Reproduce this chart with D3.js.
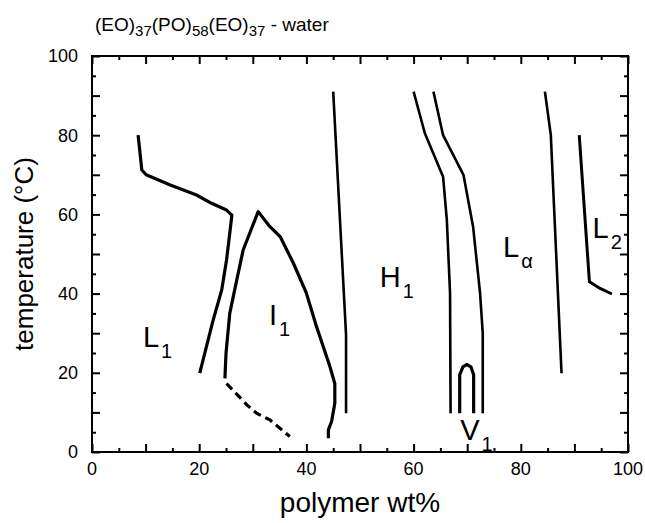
<!DOCTYPE html>
<html>
<head>
<meta charset="utf-8">
<script src="https://cdn.jsdelivr.net/npm/d3@7"></script>
<style>
  html, body { margin: 0; padding: 0; background: #fff; }
  svg { display: block; font-family: "Liberation Sans", Arial, Helvetica, sans-serif; }
</style>
</head>
<body>
<svg id="chart" width="645" height="523"></svg>
<script>
// ---- data (polymer wt%, temperature °C) ----
const l1Boundary = [[8.6,80],[9.3,71.2],[10.1,70],[14.6,67.4],[19.5,64.9],[22.3,62.8],[25.1,61.1],[26.1,59.8],[25.7,55.2],[25.1,48.5],[24.2,40.9],[22.6,33.3],[20.1,19.9]];
const i1Boundary = [[24.8,18.6],[25.0,24.9],[25.7,35],[27.0,43.4],[28.2,51],[31.0,60.7],[33.2,56.9],[35.1,54.4],[37.6,47.6],[40.0,40.1],[41.9,31.6],[44.4,21.5],[45.3,17.3],[45.3,12.3],[44.7,7.7],[44.1,5.6],[44.1,3.5]];
const i1Lower = [[25.1,17.3],[28.9,11.9],[30.7,9.8],[33.2,8.1],[36.9,3.9]];
const h1Left = [[45.0,91],[47.4,29.5],[47.4,9.8]];
const h1Right = [[60.0,91],[62.1,80.5],[65.5,69.5],[66.2,58.6],[66.8,40.1],[66.9,9.8]];
const v1Right = [[63.7,91],[65.5,80],[69.3,70],[71.1,56.9],[72.4,40.1],[72.9,30],[72.9,9.8]];
const v1Loop = [[68.6,9.8],[68.6,19.5],[69.2,21.5],[69.9,22.1],[70.7,21.5],[71.2,19.5],[71.2,9.8]];
const laRight = [[84.5,91],[85.6,80],[87.6,19.9]];
const l2Boundary = [[90.9,80],[92.8,43],[94.8,41.3],[97.0,39.9]];

const xMajorTicks = [0,10,20,30,40,50,60,70,80,90,100];
const xMinorTicks = [5,15,25,35,45,55,65,75,85,95];
const yMajorTicks = [0,10,20,30,40,50,60,70,80,90,100];
const yMinorTicks = [5,15,25,35,45,55,65,75,85,95];
const xTickLabels = [0,20,40,60,80,100];
const yTickLabels = [0,20,40,60,80,100];

const phaseLabels = [
  {main:"L", sub:"1", x:9.5, y:26.6},
  {main:"I", sub:"1", x:33.0, y:32.0},
  {main:"H", sub:"1", x:53.7, y:41.7},
  {main:"L", sub:"α", x:76.7, y:49.3},
  {main:"L", sub:"2", x:93.4, y:54.0},
  {main:"V", sub:"1", x:68.7, y:3.0}
];

// ---- layout ----
const svg = d3.select("#chart");
const L = 92, R = 628, T = 56, B = 452;
const x = d3.scaleLinear().domain([0,100]).range([L,R]);
const y = d3.scaleLinear().domain([0,100]).range([B,T]);

// axes (ticks inward on all sides)
function addAxis(gen, tr, vals, size) {
  const g = svg.append("g").attr("transform", tr)
    .call(gen.tickValues(vals).tickSize(-size).tickFormat(""));
  g.select(".domain").remove();
  g.selectAll("line").attr("stroke","#000").attr("stroke-width",2);
  return g;
}
addAxis(d3.axisBottom(x), `translate(0,${B})`, xMajorTicks, 8);
addAxis(d3.axisBottom(x), `translate(0,${B})`, xMinorTicks, 4);
addAxis(d3.axisTop(x), `translate(0,${T})`, xMajorTicks, 8);
addAxis(d3.axisTop(x), `translate(0,${T})`, xMinorTicks, 4);
addAxis(d3.axisLeft(y), `translate(${L},0)`, yMajorTicks, 8);
addAxis(d3.axisLeft(y), `translate(${L},0)`, yMinorTicks, 4);
addAxis(d3.axisRight(y), `translate(${R},0)`, yMajorTicks, 8);
addAxis(d3.axisRight(y), `translate(${R},0)`, yMinorTicks, 4);

svg.append("rect").attr("x",L).attr("y",T).attr("width",R-L).attr("height",B-T)
  .attr("fill","none").attr("stroke","#000").attr("stroke-width",2);

// tick labels
svg.append("g").selectAll("text").data(xTickLabels).join("text")
  .attr("x", d => x(d)).attr("y", 475).attr("text-anchor","middle")
  .attr("font-size", 18).text(d => d);
svg.append("g").selectAll("text").data(yTickLabels).join("text")
  .attr("x", 78).attr("y", d => y(d)).attr("dy","0.36em").attr("text-anchor","end")
  .attr("font-size", 18).text(d => d);

// axis titles
svg.append("text").attr("x", (L+R)/2).attr("y", 512).attr("text-anchor","middle")
  .attr("font-size", 28).text("polymer wt%");
svg.append("text").attr("transform", `translate(33,${(T+B)/2}) rotate(-90)`)
  .attr("text-anchor","middle").attr("font-size", 26).text("temperature (°C)");

// title
const title = svg.append("text").attr("x", 95).attr("y", 31).attr("font-size", 19);
const parts = [["(EO)",false],["37",true],["(PO)",false],["58",true],["(EO)",false],["37",true],[" - water",false]];
parts.forEach(([t,sub]) => {
  title.append("tspan").attr("font-size", sub ? 15 : 19)
    .attr("baseline-shift", sub ? "-30%" : null).text(t);
});

// boundaries
const line = d3.line().x(d => x(d[0])).y(d => y(d[1]));
const curves = [
  {d:l1Boundary, w:3.2},
  {d:i1Boundary, w:3.2},
  {d:h1Left, w:2.6},
  {d:h1Right, w:2.6},
  {d:v1Right, w:2.6},
  {d:v1Loop, w:3.2},
  {d:laRight, w:2.6},
  {d:l2Boundary, w:3}
];
svg.append("g").selectAll("path").data(curves).join("path")
  .attr("d", c => line(c.d)).attr("fill","none").attr("stroke","#000")
  .attr("stroke-width", c => c.w).attr("stroke-linejoin","round").attr("stroke-linecap","butt");
svg.append("path").attr("d", line(i1Lower)).attr("fill","none").attr("stroke","#000")
  .attr("stroke-width",3.2).attr("stroke-dasharray","8,5");

// phase labels
const pl = svg.append("g").selectAll("text").data(phaseLabels).join("text")
  .attr("x", d => x(d.x)).attr("y", d => y(d.y)).attr("font-size", 29);
pl.append("tspan").text(d => d.main);
pl.append("tspan").attr("font-size", 20).attr("dx", 2).attr("dy", 11).text(d => d.sub);
</script>
</body>
</html>
